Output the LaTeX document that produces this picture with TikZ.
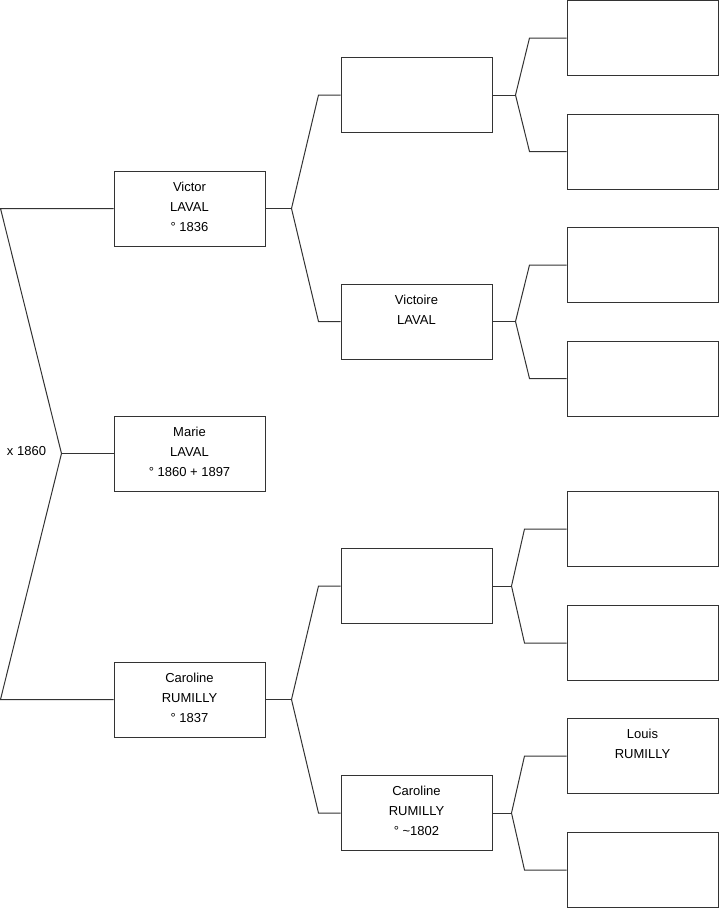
\documentclass[tikz,border=0pt]{standalone}
\usepackage{fontspec}
\setmainfont{Liberation Sans}
\usetikzlibrary{calc,positioning}
\tikzset{
  person/.style={draw=black!80,line width=0.75pt,minimum width=113.25pt,minimum height=56.25pt,inner sep=0pt},
  who/.style={font=\fontsize{9.75}{15}\selectfont,align=center,inner sep=0pt},
  link/.style={draw=black!80,line width=0.75pt}
}

\begin{document}
\begin{tikzpicture}[x=0.75pt,y=-0.75pt]
  \useasboundingbox (0,0) rectangle (719,908);
  % root and parents
  \node[person] (marie) at (189.5,453.5) {};
  \node[person] (victor) at (189.5,208.5) {};
  \node[person] (caroline) at (189.5,699.5) {};
  % grandparents
  \node[person] (g2a) at (416.5,95) {};
  \node[person] (g2b) at (416.5,321.5) {};
  \node[person] (g2c) at (416.5,586) {};
  \node[person] (g2d) at (416.5,813) {};
  % great-grandparents
  \foreach \n/\y in {g3a/38,g3b/151.5,g3c/265,g3d/378.5,g3e/529,g3f/643,g3g/756,g3h/870}
    \node[person] (\n) at (642.5,\y) {};
  % names
  \node[who,below=8.25pt of marie.north] (marietxt) {Marie\\LAVAL\\° 1860 + 1897};
  \node[who,below=8.25pt of victor.north] (victortxt) {Victor\\LAVAL\\° 1836};
  \node[who,below=8.25pt of caroline.north] (carolinetxt) {Caroline\\RUMILLY\\° 1837};
  \node[who,below=8.25pt of g2b.north] (victoiretxt) {Victoire\\LAVAL};
  \node[who,below=8.25pt of g2d.north] (caroline2txt) {Caroline\\RUMILLY\\° \textasciitilde1802};
  \node[who,below=8.25pt of g3g.north] (louistxt) {Louis\\RUMILLY};
  \node[who] (marr) at (26.5,451) {x 1860};
  % links
  \draw[link] (marie.west) -- ++(-52,0) coordinate (jm);
  \draw[link] (victor.west) -- ++(-113,0) -- (jm) -- ($(caroline.west)+(-113,0)$) -- (caroline.west);
  \foreach \p/\a/\b/\f/\c in {victor/g2a/g2b/26/22,caroline/g2c/g2d/26/22,g2a/g3a/g3b/23/37,g2b/g3c/g3d/23/37,g2c/g3e/g3f/19/42,g2d/g3g/g3h/19/42}{
    \draw[link] (\p.east) -- ++(\f,0) coordinate (j);
    \draw[link] (\a.west) -- ++(-\c,0) -- (j) -- ($(\b.west)+(-\c,0)$) -- (\b.west);
  }
\end{tikzpicture}
\end{document}
